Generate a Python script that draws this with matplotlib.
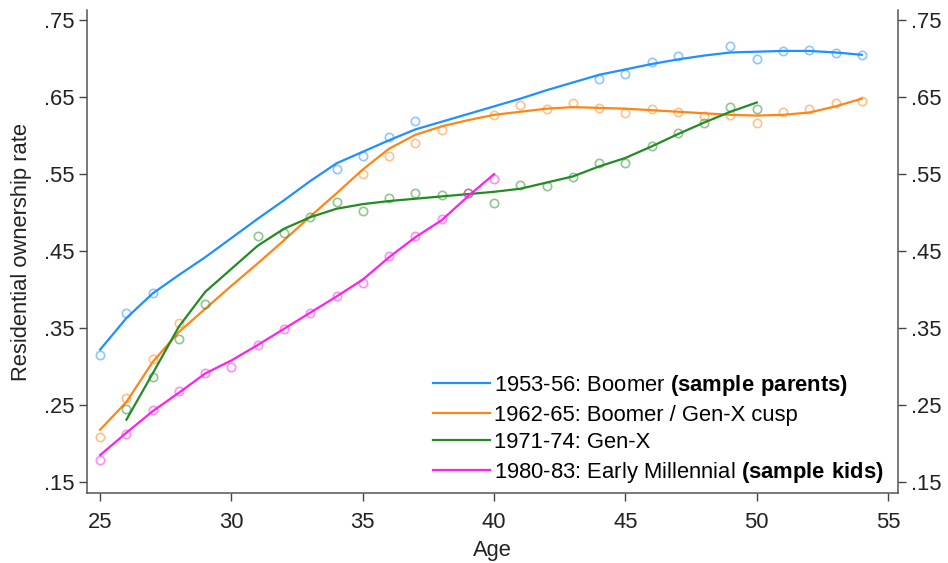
import matplotlib
matplotlib.use('Agg')
import matplotlib.pyplot as plt

plt.rcParams['font.family'] = ['Liberation Sans', 'DejaVu Sans']
plt.rcParams['mathtext.fontset'] = 'custom'
plt.rcParams['mathtext.rm'] = 'Liberation Sans'
plt.rcParams['mathtext.bf'] = 'Liberation Sans:bold'

# observed points (circles)
boomer_age = [25, 26, 27, 34, 35, 36, 37, 44, 45, 46, 47, 49, 50, 51, 52, 53, 54]
boomer_pts = [0.315, 0.369, 0.396, 0.556, 0.573, 0.598, 0.619, 0.673, 0.680, 0.696,
              0.704, 0.717, 0.700, 0.710, 0.711, 0.707, 0.705]

cusp_age = [25, 26, 27, 28, 35, 36, 37, 38, 40, 41, 42, 43, 44, 45, 46, 47, 48, 49,
            50, 51, 52, 53, 54]
cusp_pts = [0.209, 0.259, 0.310, 0.357, 0.550, 0.574, 0.590, 0.607, 0.627, 0.640,
            0.635, 0.643, 0.636, 0.630, 0.635, 0.631, 0.626, 0.627, 0.617, 0.631,
            0.634, 0.643, 0.645]

genx_age = [26, 27, 28, 29, 31, 32, 33, 34, 35, 36, 37, 38, 39, 40, 41, 42, 43, 44,
            45, 46, 47, 48, 49, 50]
genx_pts = [0.245, 0.286, 0.336, 0.381, 0.469, 0.474, 0.494, 0.514, 0.502, 0.519,
            0.526, 0.523, 0.526, 0.512, 0.536, 0.534, 0.546, 0.565, 0.564, 0.586,
            0.603, 0.617, 0.637, 0.634]

mill_age = list(range(25, 41))
mill_pts = [0.179, 0.213, 0.244, 0.268, 0.291, 0.300, 0.328, 0.349, 0.370, 0.392,
            0.409, 0.443, 0.469, 0.492, 0.526, 0.543]

# smoothed lines
boomer_line_age = list(range(25, 55))
boomer_line = [0.322, 0.363, 0.395, 0.419, 0.442, 0.467, 0.492, 0.516, 0.541, 0.564,
               0.579, 0.594, 0.608, 0.618, 0.628, 0.638, 0.648, 0.659, 0.669, 0.679,
               0.686, 0.693, 0.699, 0.704, 0.708, 0.709, 0.710, 0.710, 0.708, 0.705]

cusp_line_age = list(range(25, 55))
cusp_line = [0.218, 0.254, 0.306, 0.345, 0.375, 0.405, 0.434, 0.464, 0.495, 0.525,
             0.556, 0.583, 0.601, 0.612, 0.620, 0.627, 0.631, 0.635, 0.637, 0.636,
             0.635, 0.633, 0.631, 0.629, 0.627, 0.626, 0.627, 0.630, 0.638, 0.648]

genx_line_age = list(range(26, 51))
genx_line = [0.231, 0.291, 0.352, 0.397, 0.427, 0.457, 0.479, 0.494, 0.505, 0.511,
             0.515, 0.518, 0.521, 0.524, 0.527, 0.531, 0.539, 0.547, 0.560, 0.571,
             0.586, 0.602, 0.617, 0.631, 0.643]

mill_line_age = list(range(25, 41))
mill_line = [0.185, 0.214, 0.242, 0.266, 0.291, 0.308, 0.328, 0.349, 0.370, 0.391,
             0.413, 0.442, 0.468, 0.490, 0.521, 0.550]

labels = [r'1953-56: Boomer $\bf{(sample\ parents)}$',
          '1962-65: Boomer / Gen-X cusp',
          '1971-74: Gen-X',
          r'1980-83: Early Millennial $\bf{(sample\ kids)}$']
colors = ['#1E90FF', '#FF8514', '#228B22', '#FF1FF0']

yticks = [0.15, 0.25, 0.35, 0.45, 0.55, 0.65, 0.75]
ytick_labels = ['.15', '.25', '.35', '.45', '.55', '.65', '.75']
xticks = [25, 30, 35, 40, 45, 50, 55]

fs = 15.8

fig = plt.figure(figsize=(9.48, 5.63), dpi=100)
ax = fig.add_axes([0.0918, 0.1243, 0.8555, 0.8577])

series = [
    (boomer_age, boomer_pts, boomer_line_age, boomer_line),
    (cusp_age, cusp_pts, cusp_line_age, cusp_line),
    (genx_age, genx_pts, genx_line_age, genx_line),
    (mill_age, mill_pts, mill_line_age, mill_line),
]
for (pa, pv, la, lv), c, lab in zip(series, colors, labels):
    ax.plot(pa, pv, linestyle='none', marker='o', markersize=6,
            markerfacecolor='none', markeredgecolor=c, markeredgewidth=1.2, alpha=0.5)
    ax.plot(la, lv, color=c, linewidth=1.6, label=lab)

ax.set_xlim(24.5, 55.38)
ax.set_ylim(0.1357, 0.763)
ax.set_xticks(xticks)
ax.set_yticks(yticks)
ax.set_yticklabels(ytick_labels)
ax.tick_params(axis='both', labelsize=fs, length=6, width=1, color='#444444',
               labelcolor='#222222', direction='out', pad=3)
ax.tick_params(axis='x', pad=7.5)
ax.tick_params(axis='y', right=True, labelright=True)
for side in ['left', 'bottom', 'right']:
    ax.spines[side].set_color('#555555')
    ax.spines[side].set_linewidth(1.1)
ax.spines['top'].set_visible(False)

ax.set_xlabel('Age', fontsize=fs, color='#222222', labelpad=5)
ax.set_ylabel('Residential ownership rate', fontsize=fs, color='#222222', labelpad=9)

ax.legend(loc='lower right', bbox_to_anchor=(0.999, -0.01), frameon=False,
          fontsize=fs, handlelength=2.6, handletextpad=0.2, labelspacing=0.3,
          borderaxespad=0.2)

fig.savefig('out.png', dpi=100)
